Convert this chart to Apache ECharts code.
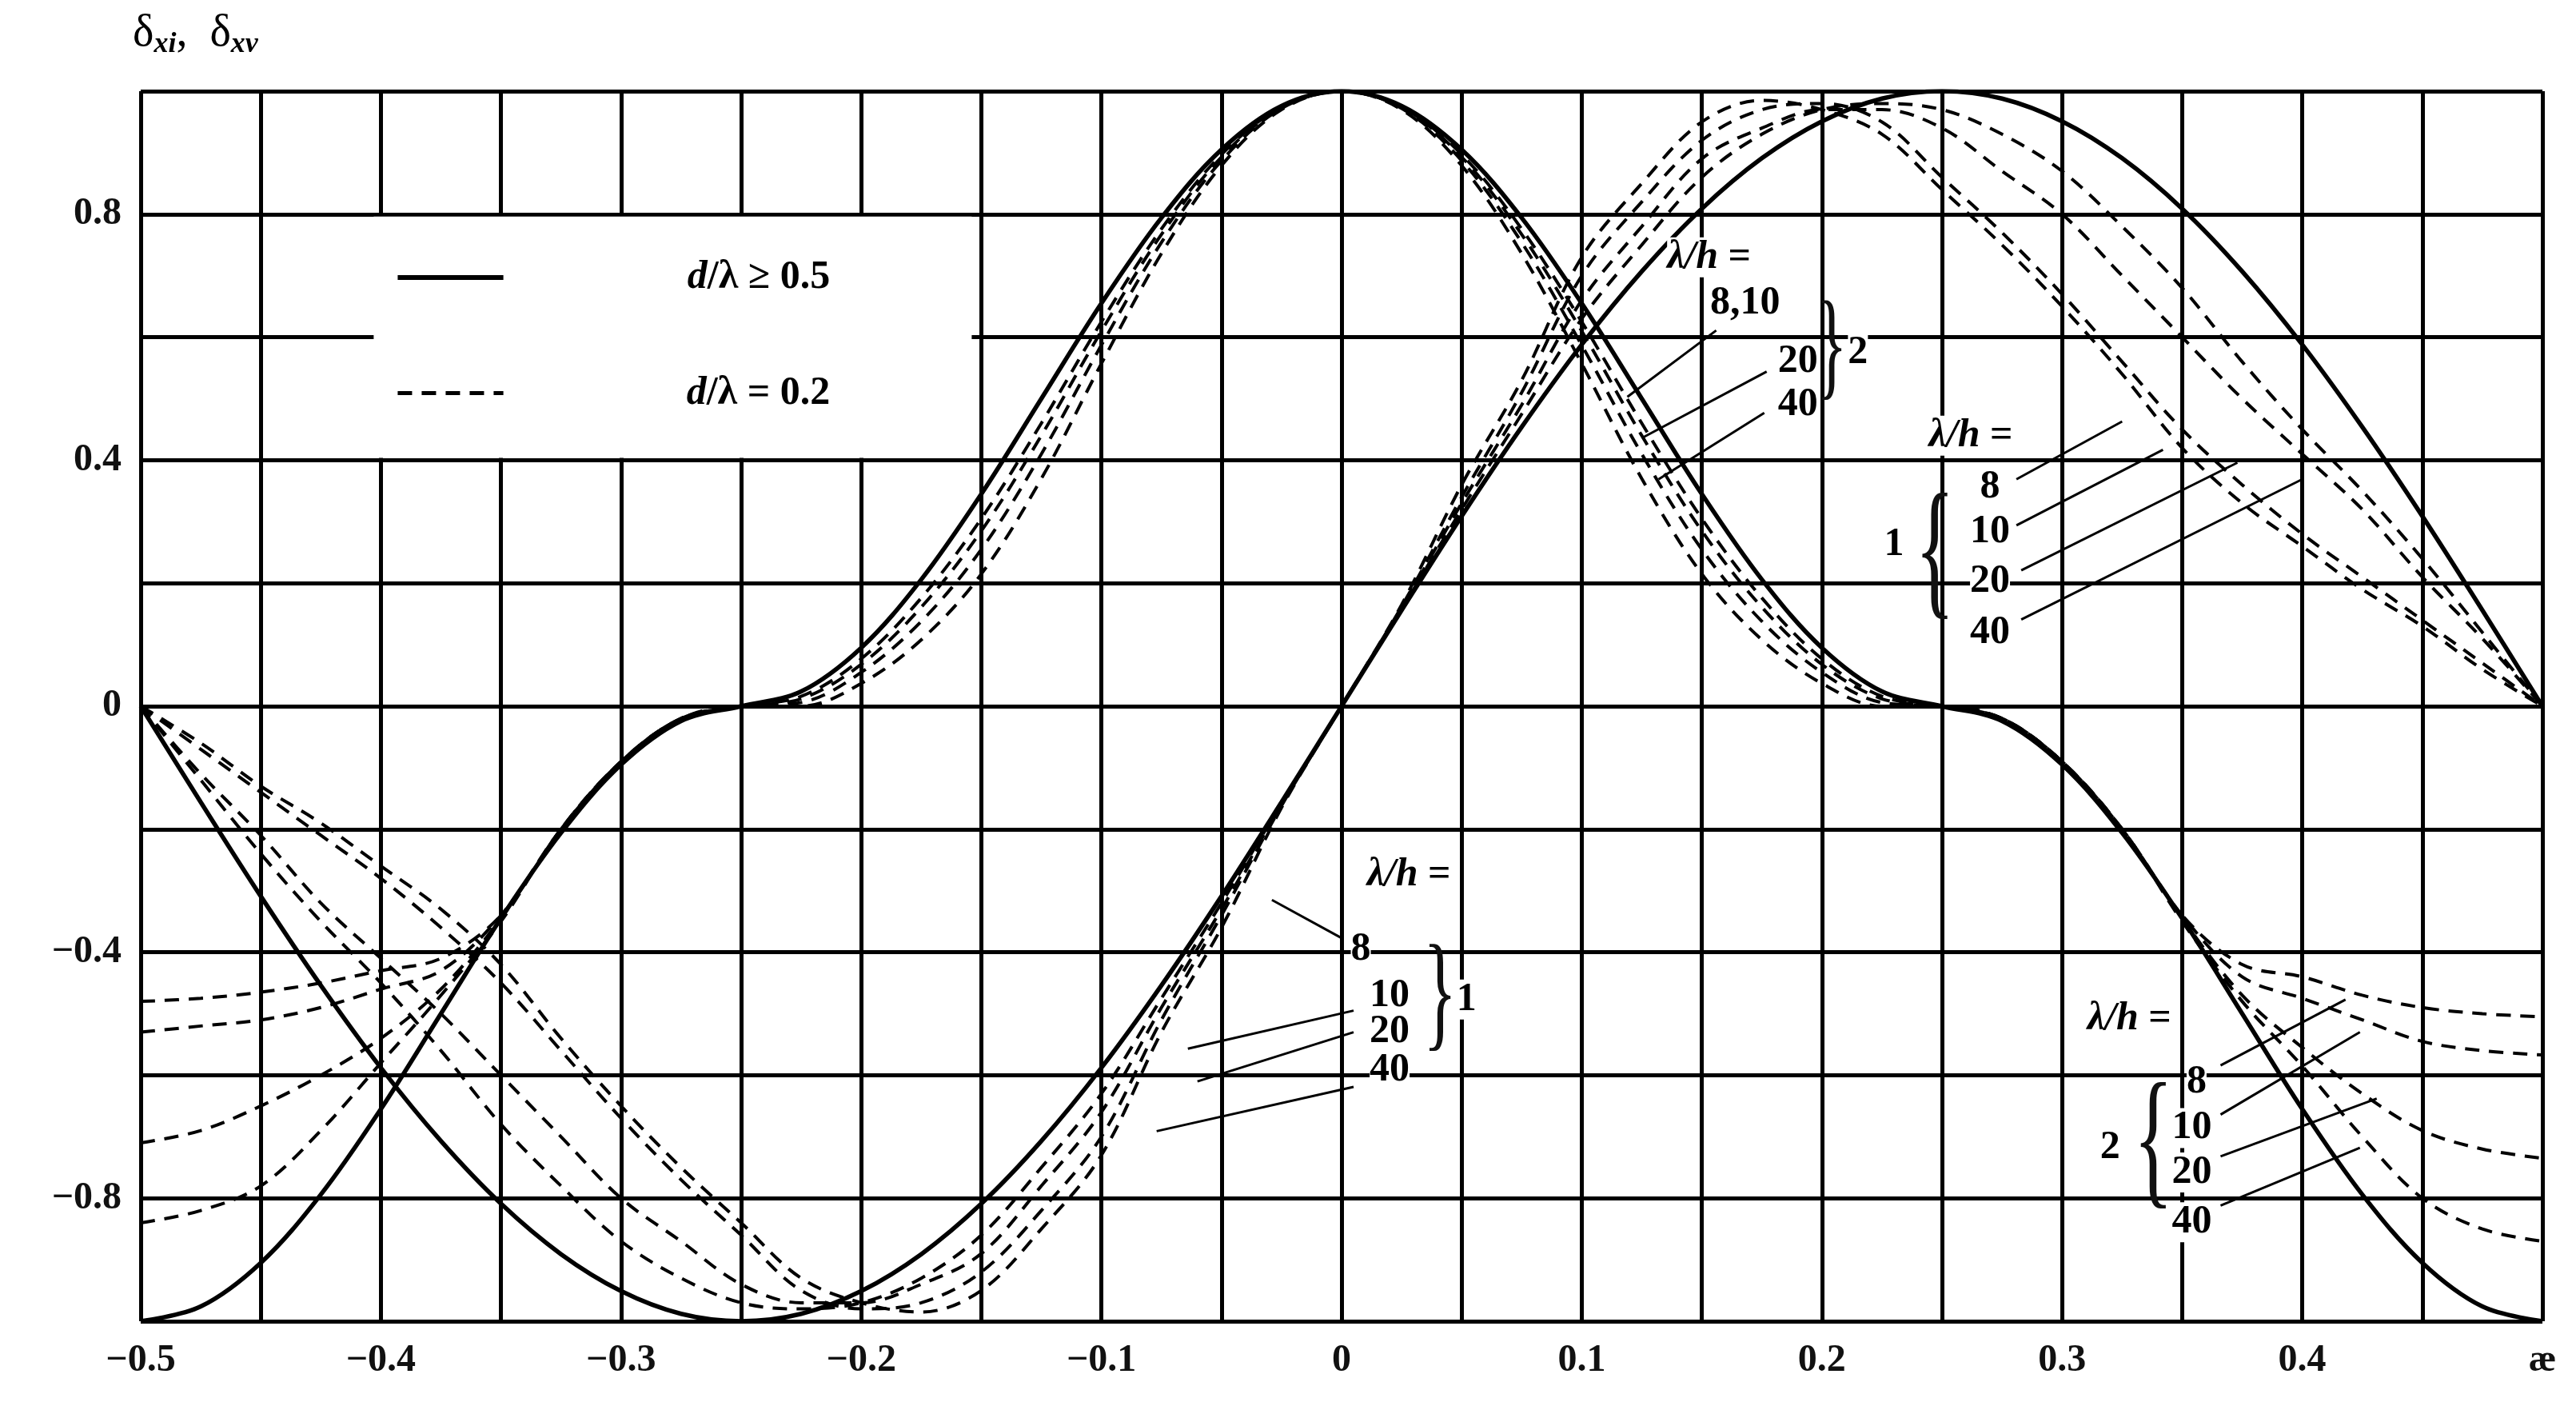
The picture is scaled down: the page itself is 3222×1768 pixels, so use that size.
<!DOCTYPE html>
<html><head><meta charset="utf-8">
<script src="https://cdn.jsdelivr.net/npm/echarts@6/dist/echarts.min.js"></script>
<style>html,body{margin:0;padding:0;background:#fff}#c{width:3222px;height:1768px}</style>
</head><body><div id="c"></div>
<script>
const xs = [-0.5,-0.475,-0.45,-0.425,-0.4,-0.375,-0.35,-0.325,-0.3,-0.275,-0.25,-0.225,-0.2,-0.175,-0.15,-0.125,-0.1,-0.075,-0.05,-0.025,0,0.025,0.05,0.075,0.1,0.125,0.15,0.175,0.2,0.225,0.25,0.275,0.3,0.325,0.35,0.375,0.4,0.425,0.45,0.475,0.5];
// curve 1, d/λ ≥ 0.5
const solid1 = [0,-.156,-.309,-.454,-.588,-.707,-.809,-.891,-.951,-.988,-1,-.988,-.951,-.891,-.809,-.707,-.588,-.454,-.309,-.156,0,.156,.309,.454,.588,.707,.809,.891,.951,.988,1,.988,.951,.891,.809,.707,.588,.454,.309,.156,0];
// curve 1, d/λ = 0.2
const dash1a = [0,-.12,-.24,-.35,-.45,-.56,-.68,-.78,-.87,-.93,-.97,-.98,-.97,-.93,-.86,-.75,-.63,-.475,-.32,-.158,0,.158,.32,.475,.63,.75,.86,.93,.97,.98,.97,.93,.87,.78,.68,.56,.45,.35,.24,.12,0];
const dash1b = [0,-.11,-.21,-.32,-.41,-.5,-.6,-.7,-.8,-.87,-.94,-.97,-.97,-.94,-.89,-.78,-.66,-.49,-.33,-.16,0,.16,.33,.49,.66,.78,.89,.94,.97,.97,.94,.87,.8,.7,.6,.5,.41,.32,.21,.11,0];
const dash1c = [0,-.07,-.14,-.21,-.28,-.36,-.45,-.56,-.67,-.77,-.86,-.95,-.98,-.97,-.92,-.82,-.7,-.51,-.34,-.162,0,.162,.34,.51,.7,.82,.92,.97,.98,.95,.86,.77,.67,.56,.45,.36,.28,.21,.14,.07,0];
const dash1d = [0,-.06,-.13,-.19,-.26,-.33,-.42,-.54,-.65,-.75,-.84,-.93,-.97,-.985,-.95,-.85,-.73,-.53,-.36,-.165,0,.165,.36,.53,.73,.85,.95,.985,.97,.93,.84,.75,.65,.54,.42,.33,.26,.19,.13,.06,0];
// curve 2, d/λ ≥ 0.5
const solid2 = [-1,-.976,-.905,-.794,-.655,-.5,-.345,-.206,-.095,-.024,0,.024,.095,.206,.345,.5,.655,.794,.905,.976,1,.976,.905,.794,.655,.5,.345,.206,.095,.024,0,-.024,-.095,-.206,-.345,-.5,-.655,-.794,-.905,-.976,-1];
// curve 2, d/λ = 0.2, λ/h = 8, 10, 20, 40
const dash2_8 = [-.48,-.475,-.465,-.45,-.43,-.41,-.34,-.2,-.09,-.02,0,.016,.077,.176,.305,.46,.625,.776,.897,.974,1,.974,.897,.776,.625,.46,.305,.176,.077,.016,0,-.02,-.09,-.2,-.34,-.42,-.44,-.47,-.49,-.5,-.505];
const dash2_10 = [-.53,-.52,-.51,-.49,-.46,-.43,-.34,-.2,-.09,-.02,0,.012,.068,.161,.285,.44,.61,.767,.893,.973,1,.973,.893,.767,.61,.44,.285,.161,.068,.012,0,-.02,-.09,-.2,-.34,-.44,-.475,-.51,-.545,-.56,-.567];
const dash2_20 = [-.71,-.69,-.65,-.6,-.54,-.46,-.345,-.2,-.09,-.02,0,.006,.055,.138,.255,.41,.587,.754,.887,.972,1,.972,.887,.754,.587,.41,.255,.138,.055,.006,0,-.02,-.09,-.2,-.345,-.47,-.555,-.63,-.69,-.72,-.735];
const dash2_40 = [-.84,-.82,-.78,-.69,-.58,-.47,-.35,-.2,-.09,-.02,0,0,.037,.108,.215,.37,.557,.736,.879,.97,1,.97,.879,.736,.557,.37,.215,.108,.037,0,0,-.02,-.09,-.2,-.35,-.48,-.585,-.7,-.8,-.85,-.87];
const yTickLabels = {'0.8':'0.8','0.4':'0.4','0':'0','-0.4':'\u22120.4','-0.8':'\u22120.8'};
const xTickLabels = {'-0.5':'\u22120.5','-0.4':'\u22120.4','-0.3':'\u22120.3','-0.2':'\u22120.2','-0.1':'\u22120.1','0':'0','0.1':'0.1','0.2':'0.2','0.3':'0.3','0.4':'0.4','0.5':'\u00e6'};

const FONT = '"Liberation Serif", "DejaVu Serif", serif';
const chart = echarts.init(document.getElementById('c'));
function pairs(v){ return xs.map((x,i)=>[x,v[i]]); }
function line(name, v, dashed){
  return {name, type:'line', data:pairs(v), smooth:0.35, symbol:'none', z:3,
    lineStyle:{color:'#000', width:dashed?4:5.5, type:dashed?[18,12]:'solid'}};
}
function k(v){ return String(Math.round(v*100)/100); }
chart.setOption({
  animation:false,
  backgroundColor:'#fff',
  grid:{left:176,right:42,top:114,bottom:116},
  xAxis:{type:'value',min:-0.5,max:0.5,interval:0.05,
    axisLine:{show:false},axisTick:{show:false},
    splitLine:{show:true,lineStyle:{color:'#000',width:5}},
    axisLabel:{fontFamily:FONT,fontSize:48,fontWeight:'bold',color:'#111',margin:26,
      formatter:v=>xTickLabels[k(v)]||''}},
  yAxis:{type:'value',min:-1,max:1,interval:0.2,
    axisLine:{show:false},axisTick:{show:false},
    splitLine:{show:true,lineStyle:{color:'#000',width:5}},
    axisLabel:{fontFamily:FONT,fontSize:48,fontWeight:'bold',color:'#111',margin:24,
      formatter:v=>yTickLabels[k(v)]||''}},
  series:[
    line('s1',solid1,false),line('s2',solid2,false),
    line('d1a',dash1a,true),line('d1b',dash1b,true),line('d1c',dash1c,true),line('d1d',dash1d,true),
    line('d2_8',dash2_8,true),line('d2_10',dash2_10,true),line('d2_20',dash2_20,true),line('d2_40',dash2_40,true)
  ]
});

// annotations (data coordinates)
const texts = [
  [0.153,0.73,'{i|\u03bb/h}{n| =}'],[0.168,0.655,'8,10'],[0.19,0.56,'20'],[0.19,0.49,'40'],[0.215,0.575,'2'],
  [0.262,0.44,'{i|\u03bb/h}{n| =}'],[0.27,0.356,'8'],[0.27,0.283,'10'],[0.27,0.203,'20'],[0.27,0.119,'40'],[0.230,0.262,'1'],
  [0.028,-0.275,'{i|\u03bb/h}{n| =}'],[0.008,-0.396,'8'],[0.02,-0.471,'10'],[0.02,-0.53,'20'],[0.02,-0.592,'40'],[0.052,-0.477,'1'],
  [0.328,-0.509,'{i|\u03bb/h}{n| =}'],[0.356,-0.611,'8'],[0.354,-0.686,'10'],[0.354,-0.758,'20'],[0.354,-0.839,'40'],[0.320,-0.718,'2']
];
const braces = [[0.204,0.575,'}',150],[0.247,0.24,'{',190],[0.041,-0.477,'}',160],[0.338,-0.718,'{',190]];
const leaders = [
  [0.156,0.611,0.119,0.503],[0.177,0.544,0.125,0.436],[0.176,0.477,0.132,0.369],
  [0.281,0.369,0.325,0.463],[0.281,0.294,0.342,0.417],[0.283,0.221,0.373,0.396],[0.283,0.141,0.40,0.369],
  [0.0,-0.377,-0.029,-0.315],[0.005,-0.495,-0.064,-0.557],[0.005,-0.53,-0.06,-0.61],[0.005,-0.619,-0.077,-0.691],
  [0.366,-0.584,0.418,-0.477],[0.366,-0.664,0.424,-0.53],[0.366,-0.732,0.431,-0.638],[0.366,-0.812,0.424,-0.718]
];
const P = p=>chart.convertToPixel({xAxisIndex:0,yAxisIndex:0},p);
const g = [];
const b0=P([-0.404,0.8]), b1=P([-0.153,0.4]);
g.push({type:'rect',z:1,shape:{x:b0[0]+3,y:b0[1]+3,width:b1[0]-b0[0]-6,height:b1[1]-b0[1]-6},style:{fill:'#fff'}});
const l1=P([-0.393,0.697]), l2=P([-0.349,0.697]), l3=P([-0.393,0.509]), l4=P([-0.349,0.509]);
g.push({type:'line',z:5,shape:{x1:l1[0],y1:l1[1],x2:l2[0],y2:l2[1]},style:{stroke:'#000',lineWidth:6}});
g.push({type:'line',z:5,shape:{x1:l3[0],y1:l3[1],x2:l4[0],y2:l4[1]},style:{stroke:'#000',lineWidth:5,lineDash:[18,12]}});
const rich={i:{fontStyle:'italic',fontWeight:'bold',fontFamily:FONT,fontSize:50,color:'#111'},
  n:{fontFamily:FONT,fontSize:50,fontWeight:'bold',color:'#111'},
  a:{fontFamily:FONT,fontSize:56,color:'#111'},s:{fontFamily:FONT,fontSize:36,fontStyle:'italic',fontWeight:'bold',color:'#111',padding:[28,0,0,0]}};
const t1=P([-0.213,0.697]), t2=P([-0.213,0.509]);
g.push({type:'text',z:5,x:t1[0],y:t1[1],style:{text:'{i|d}{n|/\u03bb \u2265 0.5}',rich,align:'right',verticalAlign:'middle'}});
g.push({type:'text',z:5,x:t2[0],y:t2[1],style:{text:'{i|d}{n|/\u03bb = 0.2}',rich,align:'right',verticalAlign:'middle'}});
g.push({type:'text',z:5,left:166,top:14,style:{text:'{a|\u03b4}{s|xi}{a|,  \u03b4}{s|xv}',rich}});
texts.forEach(([x,y,s])=>{const p=P([x,y]);
  g.push({type:'text',z:6,x:p[0],y:p[1],style:{text:s.includes('{')?s:'{n|'+s+'}',rich,align:'center',verticalAlign:'middle',backgroundColor:'#fff'}});});
braces.forEach(([x,y,s,fs])=>{const p=P([x,y]);
  g.push({type:'text',z:6,x:p[0],y:p[1],scaleX:0.55,style:{text:s,font:'normal '+fs+'px '+FONT,align:'center',verticalAlign:'middle',fill:'#111'}});});
leaders.forEach(([a,b,c,d])=>{const p=P([a,b]),q=P([c,d]);
  g.push({type:'line',z:5,shape:{x1:p[0],y1:p[1],x2:q[0],y2:q[1]},style:{stroke:'#000',lineWidth:3}});});
chart.setOption({graphic:g});
</script></body></html>
